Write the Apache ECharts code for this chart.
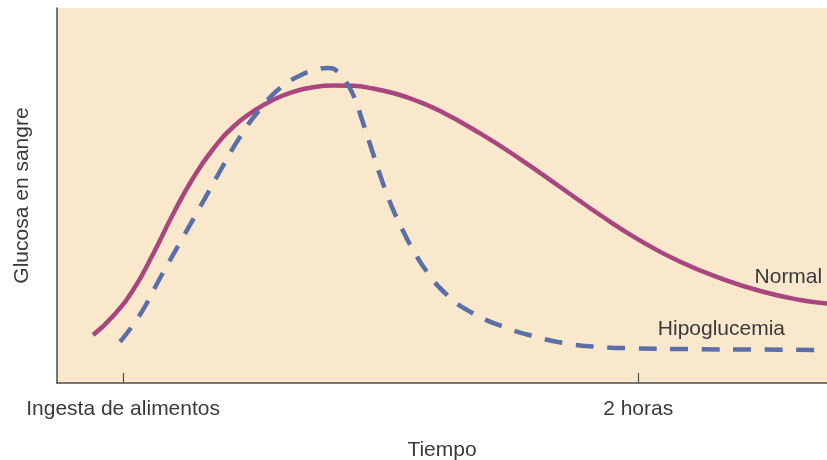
<!DOCTYPE html>
<html>
<head>
<meta charset="utf-8">
<script src="https://cdn.jsdelivr.net/npm/echarts@6/dist/echarts.min.js"></script>
<style>
  html, body { margin: 0; padding: 0; background: #ffffff; }
  #chart { width: 827px; height: 460px; }
</style>
</head>
<body>
<div id="chart"></div>
<script>
// Time after a meal (minutes) and relative blood-glucose level (0–100)
const normalTime = [-6.99, -2.33, 2.33, 6.99, 11.65, 16.31, 20.97, 25.63, 30.29, 34.95, 39.61, 44.27, 48.93, 53.59, 58.25, 62.91, 67.57, 73.86, 83.18, 92.5, 101.83, 111.14, 120.47, 129.79, 139.11, 148.43, 157.75, 164.04];
const normalGlucose = [12.8, 17.87, 24.8, 34.4, 45.07, 54.67, 62.4, 68.27, 72.43, 75.52, 77.65, 78.88, 79.33, 79.25, 78.53, 77.33, 75.6, 72.53, 66.56, 59.73, 52.27, 44.8, 37.97, 32.32, 27.95, 24.53, 22.13, 21.2];

const hypoTime = [-0.7, 3.96, 8.62, 13.28, 17.94, 22.6, 27.26, 31.92, 36.58, 41.24, 44.74, 47.77, 50.1, 51.96, 53.83, 55.69, 58.02, 60.35, 62.68, 65.01, 67.34, 70.83, 75.49, 80.85, 88.54, 96.0, 102.99, 110.45, 118.83, 134.45, 148.43, 164.04];
const hypoGlucose = [11.01, 18.27, 28.0, 37.52, 46.93, 56.53, 65.68, 73.01, 78.67, 82.03, 83.47, 84.0, 82.93, 80.27, 76.27, 70.13, 61.92, 53.87, 46.85, 41.07, 35.95, 29.6, 23.47, 19.01, 15.01, 12.35, 10.59, 9.68, 9.25, 9.01, 8.91, 8.8];

// Tick positions on the time axis and their labels
const tickValues = [0, 120];
const tickLabels = ['Ingesta de alimentos', '2 horas'];

// Series names and where their names are written
const seriesNames = ['Normal', 'Hipoglucemia'];
const nameAnchors = [[155, 28.3], [139.4, 14.4]];

const pairs = (xs, ys) => xs.map((x, i) => [x, ys[i]]);

const FONT = '"Liberation Sans", Arial, Helvetica, sans-serif';
const TEXT = '#3a3a3a';
const AXIS = '#4d4d4d';
const MAGENTA = '#a9457f';
const BLUE = '#5a6ea7';

const chart = echarts.init(document.getElementById('chart'));

const nameMark = (i) => ({
  symbol: 'circle',
  symbolSize: 0,
  silent: true,
  data: [{
    coord: nameAnchors[i],
    label: {
      show: true,
      position: 'inside',
      formatter: seriesNames[i],
      color: TEXT,
      fontSize: 21,
      fontFamily: FONT
    }
  }]
});

chart.setOption({
  animation: false,
  backgroundColor: '#ffffff',
  textStyle: { fontFamily: FONT },
  grid: {
    left: 57, right: 0, top: 8, bottom: 77,
    containLabel: false,
    outerBoundsMode: 'none',
    show: true,
    backgroundColor: '#fae8cd',
    borderWidth: 0
  },
  xAxis: {
    type: 'value',
    min: -15.4,
    max: 164,
    name: 'Tiempo',
    nameLocation: 'middle',
    nameGap: 57,
    nameTextStyle: { color: TEXT, fontSize: 21, fontFamily: FONT },
    axisLine: { show: true, onZero: false, lineStyle: { color: AXIS, width: 1.5 } },
    axisTick: {
      show: true,
      inside: true,
      length: 10,
      customValues: tickValues,
      lineStyle: { color: AXIS, width: 1.2 }
    },
    axisLabel: {
      show: true,
      customValues: tickValues,
      margin: 16,
      color: TEXT,
      fontSize: 21,
      fontFamily: FONT,
      formatter: (v) => tickLabels[tickValues.indexOf(v)] ?? ''
    },
    splitLine: { show: false }
  },
  yAxis: {
    type: 'value',
    min: 0,
    max: 100,
    name: 'Glucosa en sangre',
    nameLocation: 'middle',
    nameRotate: 90,
    nameGap: 24,
    nameTextStyle: { color: TEXT, fontSize: 21, fontFamily: FONT },
    axisLine: { show: true, onZero: false, lineStyle: { color: AXIS, width: 1.5 } },
    axisTick: { show: false },
    axisLabel: { show: false },
    splitLine: { show: false }
  },
  series: [
    {
      name: seriesNames[0],
      type: 'line',
      data: pairs(normalTime, normalGlucose),
      smooth: 0.5,
      showSymbol: false,
      lineStyle: { color: MAGENTA, width: 4.5, cap: 'butt' },
      markPoint: nameMark(0),
      z: 2
    },
    {
      name: seriesNames[1],
      type: 'line',
      data: pairs(hypoTime, hypoGlucose),
      smooth: 0.5,
      showSymbol: false,
      lineStyle: { color: BLUE, width: 4.5, type: [18, 13.5], cap: 'butt' },
      markPoint: nameMark(1),
      z: 3
    }
  ]
});
</script>
</body>
</html>
